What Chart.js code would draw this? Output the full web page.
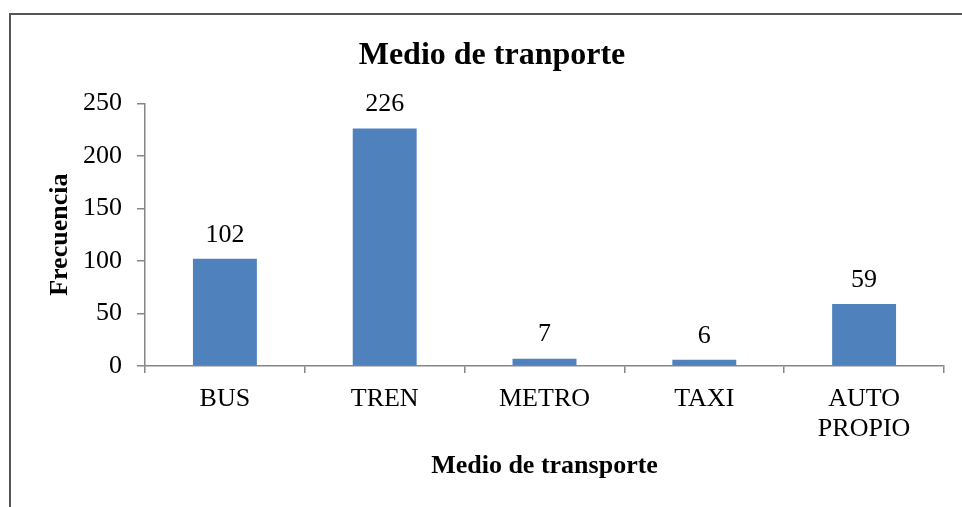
<!DOCTYPE html>
<html>
<head>
<meta charset="utf-8">
<script src="https://cdn.jsdelivr.net/npm/chart.js@4"></script>
<style>
  html, body { margin: 0; padding: 0; background: #fff; overflow: hidden; }
  #wrap { position: relative; width: 962px; height: 507px; }
  #frame { position: absolute; left: 9px; top: 13px; width: 980px; height: 520px;
           border-top: 2px solid #555; border-left: 2px solid #555; pointer-events: none; }
</style>
</head>
<body>
<div id="wrap">
  <canvas id="chart" width="962" height="507"></canvas>
  <div id="frame"></div>
</div>
<script>
// chart data
const categories = ['BUS', 'TREN', 'METRO', 'TAXI', ['AUTO', 'PROPIO']];
const frecuencia = [102, 226, 7, 6, 59];
const yTicks = [0, 50, 100, 150, 200, 250];

const serif = "'Liberation Serif', 'Times New Roman', serif";
const axisGray = '#868686';

// draws the value above each bar
const valueLabels = {
    id: 'valueLabels',
    afterDatasetsDraw(chart) {
        const ctx = chart.ctx;
        const meta = chart.getDatasetMeta(0);
        ctx.save();
        ctx.font = '26px ' + serif;
        ctx.fillStyle = '#000';
        ctx.textAlign = 'center';
        ctx.textBaseline = 'middle';
        meta.data.forEach((bar, i) => {
            ctx.fillText(String(frecuencia[i]), bar.x, bar.y - 24);
        });
        ctx.restore();
    }
};

new Chart(document.getElementById('chart'), {
    type: 'bar',
    data: {
        labels: categories,
        datasets: [{
            label: 'Frecuencia',
            data: frecuencia,
            backgroundColor: '#4F81BD',
            borderWidth: 0,
            barPercentage: 0.4,
            categoryPercentage: 1
        }]
    },
    options: {
        responsive: false,
        animation: false,
        layout: { padding: { left: 40, right: 18, top: 0, bottom: 0 } },
        plugins: {
            legend: { display: false },
            tooltip: { enabled: false },
            title: {
                display: true,
                text: 'Medio de tranporte',
                color: '#000',
                font: { family: serif, size: 32, weight: 'bold', lineHeight: 1.2 },
                padding: { top: 37, bottom: 28 }
            }
        },
        scales: {
            x: {
                afterFit: (s) => { s.height = 141; },
                border: { color: axisGray, width: 1.5 },
                grid: { drawOnChartArea: false, drawTicks: true, tickLength: 7, color: axisGray, lineWidth: 1.5 },
                ticks: {
                    color: '#000',
                    padding: 11,
                    maxRotation: 0,
                    font: { family: serif, size: 26, lineHeight: 1.15 }
                },
                title: {
                    display: true,
                    text: 'Medio de transporte',
                    color: '#000',
                    font: { family: serif, size: 26, weight: 'bold', lineHeight: 1.2 },
                    padding: { top: 0, bottom: 25 }
                }
            },
            y: {
                min: 0,
                max: 250,
                afterFit: (s) => { s.width = 105; },
                afterBuildTicks: (s) => { s.ticks = yTicks.map(v => ({ value: v })); },
                border: { color: axisGray, width: 1.5 },
                grid: { drawOnChartArea: false, drawTicks: true, tickLength: 8, color: axisGray, lineWidth: 1.5 },
                ticks: {
                    color: '#000',
                    padding: 15,
                    font: { family: serif, size: 26 }
                },
                title: {
                    display: true,
                    text: 'Frecuencia',
                    color: '#000',
                    font: { family: serif, size: 26, weight: 'bold', lineHeight: 1.2 },
                    padding: { top: 5, bottom: 0 }
                }
            }
        }
    },
    plugins: [valueLabels]
});
</script>
</body>
</html>
